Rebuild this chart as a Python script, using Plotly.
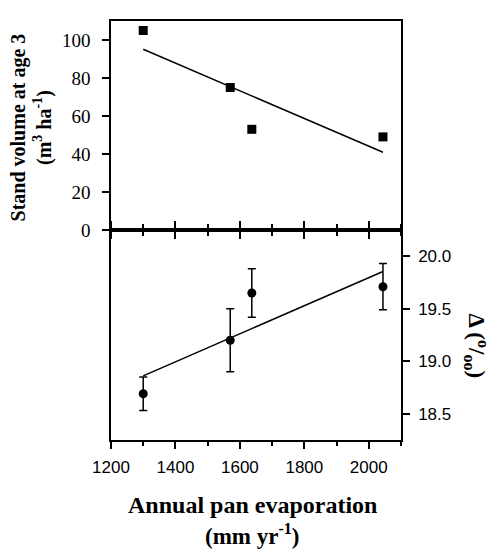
import numpy as np
import plotly.graph_objects as go

# ---- data ----
evap = [1300, 1570, 1637, 2044]            # annual pan evaporation (mm/yr)
volume = [105, 75, 53, 49]                 # stand volume at age 3 (m3/ha)
delta = [18.69, 19.20, 19.65, 19.71]       # carbon isotope discrimination (per mil)
delta_err = [0.16, 0.30, 0.23, 0.22]

x_ticks = [1200, 1400, 1600, 1800, 2000]
vol_ticks = [0, 20, 40, 60, 80, 100]
delta_ticks = [18.5, 19.0, 19.5, 20.0]

# least-squares fits through the data
fit_x = [min(evap), max(evap)]
pv = np.polyfit(evap, volume, 1)
pd_ = np.polyfit(evap, delta, 1)
fit_vol = list(np.polyval(pv, fit_x))
fit_delta = list(np.polyval(pd_, fit_x))

SERIF = "Liberation Serif"
SANS = "Liberation Sans"
LW = 1.5

# the page body has an 8px margin: figure is placed at (8, 8)
OFF = 8
L, R_, T, B = 111 - OFF, 401 - OFF, 19 - OFF, 440 - OFF   # plot box in figure px
W, H = 496 - OFF, 550 - OFF
plot_w = R_ - L
plot_h = B - T
mid = 229 - OFF


def px_x(px):  # page px -> paper x
    return (px - OFF - L) / plot_w


def px_y(py):  # page px -> paper y
    return (B - (py - OFF)) / plot_h


fig = go.Figure()
fig.add_trace(go.Scatter(x=fit_x, y=fit_vol, mode="lines",
                         line=dict(color="black", width=LW),
                         xaxis="x", yaxis="y", showlegend=False))
fig.add_trace(go.Scatter(x=evap, y=volume, mode="markers",
                         marker=dict(symbol="square", size=9, color="black"),
                         xaxis="x", yaxis="y", showlegend=False))
fig.add_trace(go.Scatter(x=fit_x, y=fit_delta, mode="lines",
                         line=dict(color="black", width=LW),
                         xaxis="x2", yaxis="y2", showlegend=False))
fig.add_trace(go.Scatter(x=evap, y=delta, mode="markers",
                         marker=dict(symbol="circle", size=9, color="black"),
                         error_y=dict(type="data", array=delta_err, visible=True,
                                      color="black", thickness=LW, width=4),
                         xaxis="x2", yaxis="y2", showlegend=False))

split = (B - mid) / plot_h

common_x = dict(range=[1200, 2100], showgrid=False, zeroline=False,
                showline=True, linecolor="black", linewidth=LW,
                tickmode="array", tickvals=x_ticks,
                tickcolor="black", tickwidth=LW,
                minor=dict(dtick=100, tick0=1200, ticks="outside", ticklen=4,
                           tickcolor="black", tickwidth=LW, showgrid=False))

fig.update_layout(
    width=W, height=H,
    margin=dict(l=L, r=W - R_, t=T, b=H - B, pad=0),
    paper_bgcolor="white", plot_bgcolor="white",
    xaxis=dict(**common_x, anchor="y", domain=[0, 1], ticks="outside", ticklen=7,
               showticklabels=False, mirror=True),
    yaxis=dict(domain=[split, 1], range=[0, 110], anchor="x",
               tickmode="array", tickvals=vol_ticks,
               showgrid=False, zeroline=False, showline=True, linecolor="black",
               linewidth=LW, mirror=True, ticks="outside", ticklen=7,
               tickcolor="black", tickwidth=LW, ticklabelstandoff=8,
               tickfont=dict(family=SERIF, size=19, color="black")),
    xaxis2=dict(**common_x, anchor="y2", domain=[0, 1], ticks="outside", ticklen=7,
                mirror="ticks", ticklabelstandoff=4,
                tickfont=dict(family=SANS, size=17, color="black")),
    yaxis2=dict(domain=[0, split], range=[18.25, 20.25], anchor="x2", side="right",
                tickmode="array", tickvals=delta_ticks, tickformat=".1f",
                showgrid=False, zeroline=False, showline=True, linecolor="black",
                linewidth=LW, mirror=True, ticks="outside", ticklen=7,
                tickcolor="black", tickwidth=LW, ticklabelstandoff=5,
                tickfont=dict(family=SANS, size=17, color="black")),
)

fig.add_annotation(xref="paper", yref="paper", x=px_x(31), y=px_y(126),
                   text="<b>Stand volume at age 3<br>(m<sup>3</sup> ha<sup>-1</sup>)</b>",
                   textangle=-90, showarrow=False, xanchor="center", yanchor="middle",
                   font=dict(family=SERIF, size=20, color="black"))
fig.add_annotation(xref="paper", yref="paper", x=px_x(477), y=px_y(345),
                   text="<b>Δ (<sup>o</sup>/<sub>oo</sub>)</b>",
                   textangle=90, showarrow=False, xanchor="center", yanchor="middle",
                   font=dict(family=SERIF, size=23, color="black"))
fig.add_annotation(xref="paper", yref="paper", x=px_x(252), y=px_y(505.5),
                   text="<b>Annual pan evaporation</b>",
                   showarrow=False, xanchor="center", yanchor="middle",
                   font=dict(family=SERIF, size=24, color="black"))
fig.add_annotation(xref="paper", yref="paper", x=px_x(252), y=px_y(535),
                   text="<b>(mm yr<sup>-1</sup>)</b>",
                   showarrow=False, xanchor="center", yanchor="middle",
                   font=dict(family=SERIF, size=23, color="black"))

fig.write_html("out.html")
